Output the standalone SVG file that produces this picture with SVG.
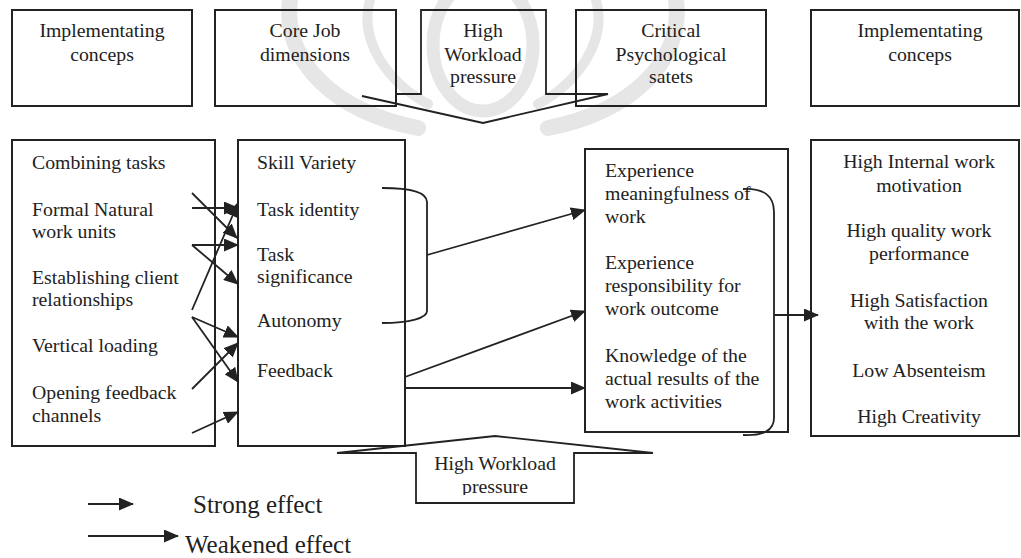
<svg xmlns="http://www.w3.org/2000/svg" width="1021" height="558" viewBox="0 0 1021 558">
<style>
  text { font-family: "Liberation Serif", "Times New Roman", serif; font-size: 19.8px; fill: #222; }
  .c { text-anchor: middle; }
  .box { fill: none; stroke: #222; stroke-width: 2; }
  .ln { fill: none; stroke: #222; stroke-width: 1.8; }
  .arr { fill: none; stroke: #222; stroke-width: 1.8; marker-end: url(#ah); }
  .wm { fill: none; stroke: #e6e6e6; stroke-linecap: round; }
  .leg { font-size: 25px; }
</style>
<defs>
  <marker id="ah" markerUnits="userSpaceOnUse" markerWidth="15" markerHeight="13" refX="14" refY="6.5" orient="auto">
    <path d="M0,0 L15,6.5 L0,13 Z" fill="#222"/>
  </marker>
  <clipPath id="clipP"><rect x="416" y="453" width="158" height="42"/></clipPath>
</defs>
<rect width="1021" height="558" fill="#fff"/>

<g id="watermark">
  <ellipse class="wm" cx="483" cy="45" rx="50" ry="66" stroke-width="13"/>
  <path class="wm" d="M290,0 C282,62 336,112 418,128" stroke-width="16"/>
  <path class="wm" d="M370,0 C358,42 390,84 428,104" stroke-width="10"/>
  <path class="wm" d="M676,0 C684,62 630,112 548,128" stroke-width="16"/>
  <path class="wm" d="M596,0 C608,42 576,84 538,104" stroke-width="10"/>
</g>

<g id="top-impl-left">
  <rect class="box" x="12" y="10" width="180" height="96"/>
  <text class="c" x="102" y="37">Implementating</text>
  <text class="c" x="102" y="61">conceps</text>
</g>
<g id="top-core">
  <rect class="box" x="215" y="10" width="181" height="96"/>
  <text class="c" x="305" y="37">Core Job</text>
  <text class="c" x="305" y="61">dimensions</text>
</g>
<g id="top-pressure">
  <path class="ln" d="M396,94 L421,94 L421,10 L546,10 L546,94 L608,94 L483,123 L362,96"/>
  <text class="c" x="483" y="37">High</text>
  <text class="c" x="483" y="61">Workload</text>
  <text class="c" x="483" y="83">pressure</text>
</g>
<g id="top-critical">
  <rect class="box" x="576" y="10" width="190" height="96"/>
  <text class="c" x="671" y="37">Critical</text>
  <text class="c" x="671" y="61">Psychological</text>
  <text class="c" x="671" y="83">satets</text>
</g>
<g id="top-impl-right">
  <rect class="box" x="811" y="10" width="208" height="96"/>
  <text class="c" x="920" y="37">Implementating</text>
  <text class="c" x="920" y="61">conceps</text>
</g>

<g id="concepts">
  <rect class="box" x="12" y="140" width="203" height="306"/>
  <text x="32" y="169">Combining tasks</text>
  <text x="32" y="216">Formal Natural</text>
  <text x="32" y="238">work units</text>
  <text x="32" y="284">Establishing client</text>
  <text x="32" y="306">relationships</text>
  <text x="32" y="352">Vertical loading</text>
  <text x="32" y="399">Opening feedback</text>
  <text x="32" y="422">channels</text>
</g>

<g id="core-dimensions">
  <rect class="box" x="238" y="140" width="167" height="306"/>
  <text x="257" y="169">Skill Variety</text>
  <text x="257" y="216">Task identity</text>
  <text x="257" y="261">Task</text>
  <text x="257" y="283">significance</text>
  <text x="257" y="327">Autonomy</text>
  <text x="257" y="377">Feedback</text>
  <path class="ln" d="M382,188 C410,188 427,192 427,202 L427,311 C427,318 410,323 382,323"/>
</g>

<g id="critical-states">
  <rect class="box" x="585" y="149" width="203" height="283"/>
  <text x="605" y="177">Experience</text>
  <text x="605" y="200">meaningfulness of</text>
  <text x="605" y="223">work</text>
  <text x="605" y="269">Experience</text>
  <text x="605" y="292">responsibility for</text>
  <text x="605" y="315">work outcome</text>
  <text x="605" y="362">Knowledge of the</text>
  <text x="605" y="385">actual results of the</text>
  <text x="605" y="408">work activities</text>
  <path class="ln" d="M743,189 C764,188 774,196 774,212 L774,418 C774,430 764,436 743,435"/>
</g>

<g id="outcomes">
  <rect class="box" x="811" y="140" width="208" height="296"/>
  <text class="c" x="919" y="168">High Internal work</text>
  <text class="c" x="919" y="192">motivation</text>
  <text class="c" x="919" y="237">High quality work</text>
  <text class="c" x="919" y="260">performance</text>
  <text class="c" x="919" y="307">High Satisfaction</text>
  <text class="c" x="919" y="329">with the work</text>
  <text class="c" x="919" y="377">Low Absenteism</text>
  <text class="c" x="919" y="423">High Creativity</text>
</g>

<g id="bottom-pressure">
  <path class="ln" d="M337,453 L495,436 L653,453 L574,453 L574,503 L416,503 L416,453 Z"/>
  <text class="c" x="495" y="470">High Workload</text>
  <text class="c" x="495" y="493" clip-path="url(#clipP)">pressure</text>
</g>

<g id="connectors">
  <line class="arr" x1="192" y1="193" x2="237" y2="238"/>
  <line class="arr" x1="192" y1="208" x2="238" y2="208"/>
  <line class="arr" x1="192" y1="245" x2="238" y2="245"/>
  <line class="arr" x1="192" y1="245" x2="238" y2="284"/>
  <line class="arr" x1="192" y1="310" x2="238" y2="203"/>
  <line class="arr" x1="192" y1="317" x2="238" y2="337"/>
  <line class="arr" x1="192" y1="317" x2="238" y2="382"/>
  <line class="arr" x1="192" y1="389" x2="238" y2="343"/>
  <line class="arr" x1="192" y1="433" x2="238" y2="412"/>
  <line class="arr" x1="427" y1="255" x2="585" y2="210"/>
  <line class="arr" x1="405" y1="377" x2="585" y2="311"/>
  <line class="arr" x1="405" y1="388" x2="585" y2="388"/>
  <line class="arr" x1="774" y1="315" x2="818" y2="315"/>
</g>

<g id="legend">
  <line class="arr" x1="88" y1="504" x2="133" y2="504"/>
  <text class="leg" x="193" y="513">Strong effect</text>
  <line class="arr" x1="88" y1="536" x2="178" y2="536"/>
  <text class="leg" x="185" y="553">Weakened effect</text>
</g>
</svg>
